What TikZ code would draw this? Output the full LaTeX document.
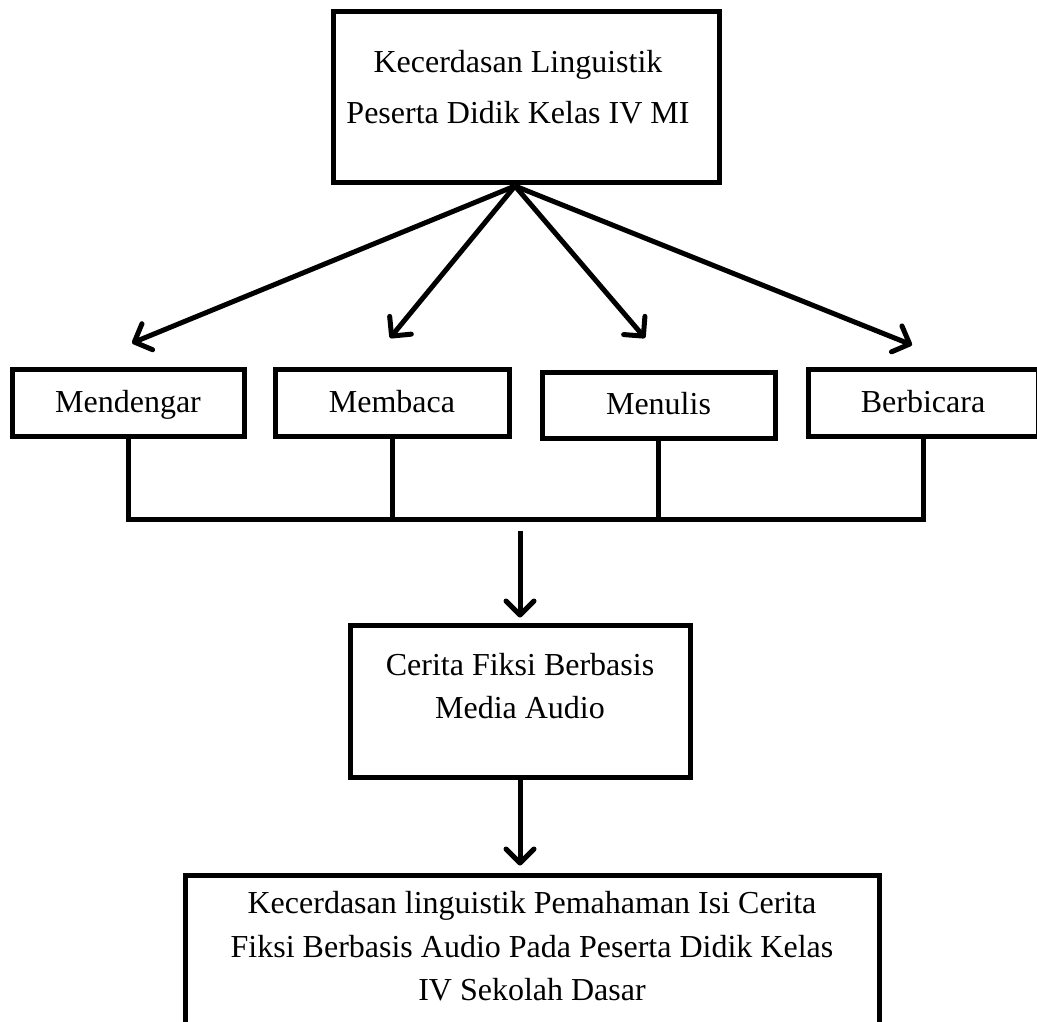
\documentclass[tikz,border=0pt]{standalone}
\usepackage{fontspec}
\setmainfont{Liberation Serif}
\usetikzlibrary{arrows.meta}

\begin{document}
\begin{tikzpicture}[
  x=0.5pt, y=-0.5pt,
  every node/.style={font=\fontsize{16pt}{21.5pt}\selectfont},
  box/.style={rectangle, draw, line width=2.5pt, align=center, inner sep=0pt},
  skill/.style={box, minimum height=33.5pt, text height=12pt, text depth=2.5pt},
  txt/.style={align=center, inner sep=0pt},
  line/.style={line width=2.5pt},
  arrow/.style={line, -{Straight Barb[length=7pt, width=14pt, round]}}
]
\useasboundingbox (0,0) rectangle (1037,1021);
\clip (0,0) rectangle (1037,1021);
% top box
\node[box, minimum width=193pt, minimum height=85.5pt,
      label={[txt, name=toptext, yshift=5pt, xshift=-4pt,
              font=\fontsize{16pt}{25.5pt}\selectfont]center:{Kecerdasan Linguistik\\Peserta Didik Kelas IV MI}}]
      (top) at (526,97.5) {};
% row of four skills
\node[skill, minimum width=116pt]                        (dengar) at (128,402.5) {Mendengar};
\node[skill, minimum width=117pt]                        (baca)   at (392,402.5) {Membaca};
\node[skill, minimum width=116.5pt, minimum height=33pt] (tulis)  at (658.5,405) {Menulis};
\node[skill, minimum width=115pt]                        (bicara) at (923,402.5) {Berbicara};
% middle and bottom boxes
\node[box, minimum width=170pt, minimum height=76pt,
      label={[txt, name=ceritatext, yshift=7.25pt]center:{Cerita Fiksi Berbasis\\Media Audio}}]
      (cerita) at (520,701) {};
\node[box, minimum width=347pt, minimum height=80pt,
      label={[txt, name=hasiltext, yshift=4.25pt,
              font=\fontsize{16pt}{21.75pt}\selectfont]center:{Kecerdasan linguistik Pemahaman Isi Cerita\\Fiksi Berbasis Audio Pada Peserta Didik Kelas\\IV Sekolah Dasar}}]
      (hasil) at (532,955) {};

% fan of arrows from the top box
\coordinate (hub)  at (515,186);
\coordinate (tip1) at (132,343);
\coordinate (tip2) at (390,338);
\coordinate (tip3) at (645,338);
\coordinate (tip4) at (912,345);
\foreach \i in {1,...,4}
  \draw[arrow] (hub) -- (tip\i);

% bus joining the skills
\coordinate (bus) at (0,519);
\draw[line] (dengar.south) -- (dengar.south |- bus) -- (bicara.south |- bus) -- (bicara.south);
\foreach \n in {baca,tulis}
  \draw[line] (\n.south) -- (\n.south |- bus);

% down arrows
\coordinate (busdown) at (520,531);
\draw[arrow, shorten >=2.5pt] (busdown) -- (cerita.north);
\draw[arrow, shorten >=3.5pt] (cerita.south) -- (cerita.south |- hasil.north);
\end{tikzpicture}
\end{document}
